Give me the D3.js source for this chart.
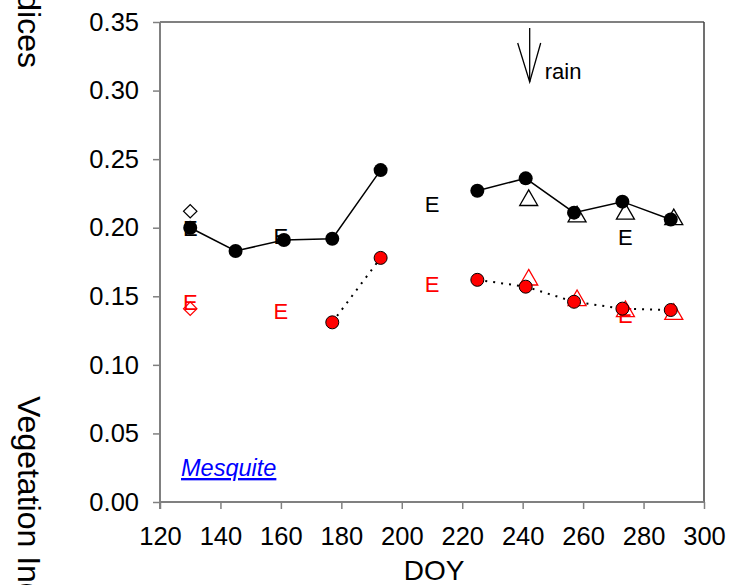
<!DOCTYPE html>
<html><head><meta charset="utf-8">
<script src="https://cdn.jsdelivr.net/npm/d3@7"></script>
<style>
html,body{margin:0;padding:0;background:#fff;overflow:hidden;}
text{font-family:"Liberation Sans",Arial,sans-serif;}
</style></head>
<body>
<svg id="chart" width="730" height="585"></svg>
<script>
// ---- data ----
const doy = [130,145,161,177,193,209,225,241,257,273,289];
const blackCircle = [0.200,0.183,0.191,0.192,0.242,null,0.227,0.236,0.211,0.219,0.206];
const redCircle   = [null,null,null,0.131,0.178,null,0.162,0.157,0.146,0.141,0.140];
const triDOY = [242,258,274,290];
const blackTri = [0.220,0.208,0.210,0.206];
const redTri   = [0.162,0.147,0.139,0.137];
const diaDOY = [130];
const blackDia = [0.212];
const redDia   = [0.141];
const eDOY = [130,160,210,274];
const blackE = [0.200,0.194,0.217,0.193];
const redE   = [0.146,0.139,0.159,0.136];
const xTicks = [120,140,160,180,200,220,240,260,280,300];
const yTicks = [0.00,0.05,0.10,0.15,0.20,0.25,0.30,0.35];
const rainDOY = 241;
const rainLabel = "rain";
const siteLabel = "Mesquite";
const xTitle = "DOY";
const yTitle = "Vegetation Indices";

// ---- layout ----
const svg = d3.select("#chart");
const L = 160, R = 704, T = 22, B = 502;
const x = d3.scaleLinear().domain([120,300]).range([L,R]);
const y = d3.scaleLinear().domain([0,0.35]).range([B,T]);

// frame (top and right)
svg.append("line").attr("x1",L).attr("x2",R).attr("y1",T).attr("y2",T)
  .attr("stroke","#808080").attr("stroke-width",2);
svg.append("line").attr("x1",R).attr("x2",R).attr("y1",T).attr("y2",B)
  .attr("stroke","#404040").attr("stroke-width",1.5);

// axes
const xAxis = svg.append("g").attr("transform",`translate(0,${B})`)
  .call(d3.axisBottom(x).tickValues(xTicks).tickSize(7).tickPadding(18).tickFormat(d3.format("d")));
const yAxis = svg.append("g").attr("transform",`translate(${L},0)`)
  .call(d3.axisLeft(y).tickValues(yTicks).tickSize(7).tickPadding(14).tickFormat(d3.format(".2f")));
[xAxis,yAxis].forEach(a=>{
  a.select(".domain").remove();
  a.selectAll(".tick line").attr("stroke","#808080").attr("stroke-width",1.5);
  a.selectAll("text").attr("font-size",25.5).attr("fill","#000")
    .style("font-family",'"Liberation Sans",Arial,sans-serif');
});
// axis lines
svg.append("line").attr("x1",L).attr("x2",R).attr("y1",B).attr("y2",B)
  .attr("stroke","#808080").attr("stroke-width",2);
svg.append("line").attr("x1",L).attr("x2",L).attr("y1",T).attr("y2",B+7)
  .attr("stroke","#808080").attr("stroke-width",2);

// titles
svg.append("text").attr("x",434).attr("y",580).attr("text-anchor","middle")
  .attr("font-size",28).text(xTitle);
svg.append("text").attr("transform","translate(18,396) rotate(90)")
  .attr("font-size",32).attr("text-anchor","start").text(yTitle);
svg.append("text").attr("transform","translate(18,68) rotate(90)")
  .attr("font-size",32).attr("text-anchor","end").text(yTitle);

// markers behind
const tri = d3.symbol(d3.symbolTriangle, 140);
const sq = d3.symbol(d3.symbolSquare, 90);
function triangles(vals, color){
  svg.append("g").selectAll("path").data(vals).join("path")
    .attr("d",tri).attr("transform",(d,i)=>`translate(${x(triDOY[i])},${y(d)})`)
    .attr("fill","none").attr("stroke",color).attr("stroke-width",1.3);
}
function diamonds(vals, color){
  svg.append("g").selectAll("path").data(vals).join("path")
    .attr("d",sq).attr("transform",(d,i)=>`translate(${x(diaDOY[i])},${y(d)}) rotate(45)`)
    .attr("fill","none").attr("stroke",color).attr("stroke-width",1.2);
}
function eMarks(vals, color){
  svg.append("g").selectAll("text").data(vals).join("text")
    .attr("x",(d,i)=>x(eDOY[i])).attr("y",d=>y(d)).attr("dy","0.36em")
    .attr("text-anchor","middle").attr("font-size",22).attr("fill",color).text("E");
}
triangles(blackTri,"#000");
triangles(redTri,"#ff0000");
diamonds(blackDia,"#000");
diamonds(redDia,"#ff0000");
eMarks(blackE,"#000");
eMarks(redE,"#ff0000");

// lines
const lineGen = vals => d3.line().defined((d,i)=>vals[i]!==null)
  .x((d,i)=>x(doy[i])).y((d,i)=>y(vals[i]))(doy);
svg.append("path").attr("d",lineGen(blackCircle)).attr("fill","none")
  .attr("stroke","#000").attr("stroke-width",1.5);
svg.append("path").attr("d",lineGen(redCircle)).attr("fill","none")
  .attr("stroke","#000").attr("stroke-width",2).attr("stroke-dasharray","2,6");

// circles
svg.append("g").selectAll("circle").data(doy.map((d,i)=>[d,blackCircle[i]]).filter(d=>d[1]!==null))
  .join("circle").attr("cx",d=>x(d[0])).attr("cy",d=>y(d[1])).attr("r",7).attr("fill","#000");
svg.append("g").selectAll("circle").data(doy.map((d,i)=>[d,redCircle[i]]).filter(d=>d[1]!==null))
  .join("circle").attr("cx",d=>x(d[0])).attr("cy",d=>y(d[1])).attr("r",6.5)
  .attr("fill","#ff0000").attr("stroke","#000").attr("stroke-width",1);

// rain arrow
const ax = x(rainDOY)+4;
const arrow = svg.append("g").attr("stroke","#000").attr("stroke-width",1.3).attr("fill","none");
arrow.append("line").attr("x1",ax).attr("x2",ax).attr("y1",28).attr("y2",82);
arrow.append("path").attr("d",`M${ax-12},43 L${ax},82 L${ax+11},43`);
svg.append("text").attr("x",ax+15).attr("y",79).attr("font-size",22).text(rainLabel);

// site label
svg.append("text").attr("x",181).attr("y",476).attr("font-size",23.5)
  .attr("font-style","italic").attr("fill","#0000ff")
  .attr("text-decoration","underline").text(siteLabel);
</script>
</body></html>
